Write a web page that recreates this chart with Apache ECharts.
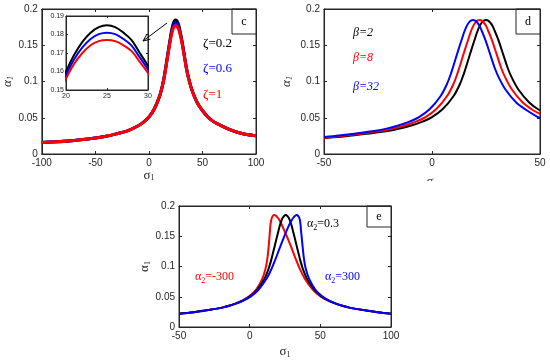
<!DOCTYPE html>
<html><head><meta charset="utf-8">
<script src="https://cdn.jsdelivr.net/npm/echarts@6/dist/echarts.min.js"></script>
<style>html,body{margin:0;padding:0;background:#fff}#c{width:550px;height:360px}</style>
</head><body><div id="c"></div>
<script>
// ---------- Panel c (zeta) ----------
const cSigma = [-100,-75,-50,-40,-30,-20,-10,-5,0,5,10,13,15,17,19,20,21,22,23,24,25,26,27,28,29,30,31,33,35,37,40,45,50,55,60,65,75,85,100];
const cZeta02 = [0.016,0.018,0.022,0.0245,0.028,0.032,0.039,0.044,0.051,0.062,0.080,0.097,0.113,0.132,0.151,0.160,0.169,0.176,0.181,0.184,0.185,0.184,0.181,0.177,0.170,0.163,0.155,0.137,0.119,0.105,0.089,0.071,0.060,0.051,0.045,0.041,0.034,0.029,0.025];
const cZeta06 = [0.016,0.018,0.022,0.0245,0.028,0.032,0.039,0.044,0.051,0.062,0.080,0.0967,0.1124,0.131,0.1495,0.1581,0.1666,0.173,0.1776,0.1802,0.181,0.1802,0.1776,0.174,0.1676,0.1611,0.1535,0.136,0.1184,0.1047,0.089,0.071,0.060,0.051,0.045,0.041,0.034,0.029,0.025];
const cZeta1 = [0.016,0.018,0.022,0.0245,0.028,0.032,0.039,0.044,0.051,0.062,0.080,0.0964,0.1118,0.130,0.148,0.1562,0.1642,0.170,0.1742,0.1764,0.177,0.1764,0.1742,0.171,0.1652,0.1592,0.152,0.135,0.1178,0.1044,0.089,0.071,0.060,0.051,0.045,0.041,0.034,0.029,0.025];
const cXTicks = {min:-100, max:100, interval:50};
const cYTicks = {min:0, max:0.2, interval:0.05};
const insetXTicks = {min:20, max:30, interval:5};
const insetYTicks = {min:0.15, max:0.19, interval:0.01};

// ---------- Panel d (beta) ----------
const dSigmaBeta2 = [-50,-40,-30,-20,-10,-5,0,5,10,13,15,17,19,20,21,22,23,24,25,26,27,28,29,30,31,33,35,37,40,45,50];
const dBeta2 = [0.022,0.0245,0.028,0.032,0.039,0.044,0.051,0.062,0.080,0.097,0.113,0.132,0.151,0.160,0.169,0.176,0.181,0.184,0.185,0.184,0.181,0.177,0.170,0.163,0.155,0.137,0.119,0.105,0.089,0.071,0.060];
const dSigmaBeta8 = [-50,-43,-33,-23,-18,-13,-8,-3,2,7,10,12,14,16,17,18,19,20,21,22,23,24,25,26,27,28,30,32,34,37,42,47,50];
const dBeta8 = [0.0225,0.0245,0.028,0.032,0.035,0.039,0.044,0.051,0.062,0.080,0.097,0.113,0.132,0.151,0.160,0.169,0.176,0.181,0.184,0.185,0.184,0.181,0.177,0.170,0.163,0.155,0.137,0.119,0.105,0.089,0.071,0.060,0.0555];
const dSigmaBeta32 = [-50,-46,-36,-26,-21,-16,-11,-6,-1,4,7,9,11,13,14,15,16,17,18,19,20,21,22,23,24,25,27,29,31,34,39,44,49,50];
const dBeta32 = [0.0235,0.0245,0.028,0.032,0.035,0.039,0.044,0.051,0.062,0.080,0.097,0.113,0.132,0.151,0.160,0.169,0.176,0.181,0.184,0.185,0.184,0.181,0.177,0.170,0.163,0.155,0.137,0.119,0.105,0.089,0.071,0.060,0.051,0.050];
const dXTicks = {min:-50, max:50, interval:50};
const dYTicks = {min:0, max:0.2, interval:0.05};

// ---------- Panel e (alpha2) ----------
const eSigmaA03 = [-50,-39.5,-29.5,-19.5,-14.5,-9.5,-4.5,0.5,5.5,10.5,13.5,15.5,17.5,19.5,20.5,21.5,22.5,23.5,24.5,25.5,26.5,27.5,28.5,29.5,30.5,31.5,33.5,35.5,37.5,40.5,45.5,50.5,55.5,60.5,65.5,70.5,80.5,90.5,100];
const eA03 = [0.022,0.0245,0.028,0.032,0.035,0.039,0.044,0.051,0.062,0.080,0.097,0.113,0.132,0.151,0.160,0.169,0.176,0.181,0.184,0.185,0.184,0.181,0.176,0.169,0.160,0.151,0.132,0.113,0.097,0.080,0.062,0.051,0.044,0.039,0.035,0.032,0.028,0.0245,0.022];
const eSigmaAm300 = [-50,-39.6,-29.7,-19.7,-14.8,-9.9,-5.0,-0.1,4.6,9.0,11.3,12.5,13.4,14.1,14.4,14.7,15.2,15.8,16.5,17.4,18.5,19.8,21.2,22.7,24.4,26.1,29.4,32.5,35.3,39.0,44.6,49.9,55.0,60.1,65.2,70.3,80.3,90.4,100];
const eAm300 = [0.022,0.0245,0.028,0.032,0.035,0.039,0.044,0.051,0.062,0.080,0.097,0.113,0.132,0.151,0.160,0.169,0.176,0.181,0.184,0.185,0.184,0.181,0.176,0.169,0.160,0.151,0.132,0.113,0.097,0.080,0.062,0.051,0.044,0.039,0.035,0.032,0.028,0.0245,0.022];
const eSigmaA300 = [-50,-39.4,-29.3,-19.3,-14.2,-9.15,-4.1,1.1,6.4,12.0,15.6,18.4,21.5,24.7,26.3,28.0,29.6,31.0,32.2,33.3,34.2,35.0,35.6,36.0,36.3,36.7,37.5,38.4,39.6,42.0,46.4,51.1,55.9,60.85,65.8,70.7,80.7,90.6,100];
const eA300 = [0.022,0.0245,0.028,0.032,0.035,0.039,0.044,0.051,0.062,0.080,0.097,0.113,0.132,0.151,0.160,0.169,0.176,0.181,0.184,0.185,0.184,0.181,0.176,0.169,0.160,0.151,0.132,0.113,0.097,0.080,0.062,0.051,0.044,0.039,0.035,0.032,0.028,0.0245,0.022];
const eXTicks = {min:-50, max:100, interval:50};
const eYTicks = {min:0, max:0.2, interval:0.05};

const pair = (xs, ys) => xs.map((x, i) => [x, ys[i]]);

const AX = '#262626';
const SANS = '"Liberation Sans Narrow", "Arial Narrow", "Liberation Sans", Arial, sans-serif';
const SERIF = '"Liberation Serif", "Times New Roman", serif';

const xAxis = [], yAxis = [];
function addAxes(gi, xt, yt, o) {
  const fs = o.fs || 10;
  const base = {
    gridIndex: gi, type: 'value',
    axisLine: {show: true, onZero: false, lineStyle: {color: AX, width: 1}},
    axisTick: {show: true, inside: true, length: o.tick || 3, lineStyle: {color: AX}},
    splitLine: {show: false}
  };
  xAxis.push(Object.assign({}, base, xt, {position: 'bottom',
    axisLabel: {color: AX, fontSize: fs, fontFamily: SANS, margin: o.xm || 4},
    name: o.xname || '', nameLocation: 'middle', nameGap: o.xgap || 15,
    nameTextStyle: o.xnameStyle || {}}));
  xAxis.push(Object.assign({}, base, xt, {position: 'top', axisLabel: {show: false}}));
  yAxis.push(Object.assign({}, base, yt, {position: 'left',
    axisLabel: {color: AX, fontSize: fs, fontFamily: SANS, margin: o.ym || 4},
    name: o.yname || '', nameLocation: 'middle', nameGap: o.ygap || 25, nameRotate: 90,
    nameTextStyle: o.ynameStyle || {}}));
  yAxis.push(Object.assign({}, base, yt, {position: 'right', axisLabel: {show: false}}));
}

const sigRich = {
  s: {fontFamily: SERIF, fontSize: 13, color: AX},
  b: {fontFamily: SERIF, fontSize: 8, color: AX, verticalAlign: 'bottom', padding: [6, 0, 0, 0]}
};
const aRichItal = {
  s: {fontFamily: SERIF, fontSize: 13, fontStyle: 'italic', color: AX},
  b: {fontFamily: SERIF, fontSize: 8, fontStyle: 'italic', color: AX, padding: [6, 0, 0, 0]}
};
const aRich = {
  s: {fontFamily: SERIF, fontSize: 13, color: AX},
  b: {fontFamily: SERIF, fontSize: 8, color: AX, padding: [6, 0, 0, 0]}
};

// grid 0: c main, grid 1: c inset, grid 2: d, grid 3: e
addAxes(0, cXTicks, cYTicks, {xname: '{s|σ}{b|1}', xnameStyle: {rich: sigRich}, xgap: 14,
  yname: '{s|α}{b|1}', ynameStyle: {rich: aRichItal}, ygap: 23});
addAxes(1, insetXTicks, insetYTicks, {fs: 7, xm: 3, ym: 2, tick: 2});
addAxes(2, dXTicks, dYTicks, {xname: '{s|σ}{b|1}', xnameStyle: {rich: sigRich}, xgap: 21,
  yname: '{s|α}{b|1}', ynameStyle: {rich: aRichItal}, ygap: 30});
addAxes(3, eXTicks, eYTicks, {xname: '{s|σ}{b|1}', xnameStyle: {rich: sigRich}, xgap: 18,
  yname: '{s|α}{b|1}', ynameStyle: {rich: aRich}, ygap: 25});

function line(gi, xs, ys, color, w) {
  return {type: 'line', xAxisIndex: gi * 2, yAxisIndex: gi * 2, data: pair(xs, ys),
    symbol: 'none', smooth: 0.35, clip: true, silent: true,
    lineStyle: {color: color, width: w}, itemStyle: {color: color}, z: 3};
}

const series = [
  line(0, cSigma, cZeta02, '#000000', 3),
  line(0, cSigma, cZeta06, '#0000ff', 3),
  line(0, cSigma, cZeta1, '#ff0000', 3),
  line(1, cSigma, cZeta02, '#000000', 2),
  line(1, cSigma, cZeta06, '#0000ff', 2),
  line(1, cSigma, cZeta1, '#ff0000', 2),
  line(2, dSigmaBeta2, dBeta2, '#000000', 2),
  line(2, dSigmaBeta8, dBeta8, '#ff0000', 2),
  line(2, dSigmaBeta32, dBeta32, '#0000ff', 2),
  line(3, eSigmaAm300, eAm300, '#ff0000', 2),
  line(3, eSigmaA03, eA03, '#000000', 2),
  line(3, eSigmaA300, eA300, '#0000ff', 2)
];

const grid = [
  {left: 41, top: 9, width: 215, height: 145, show: true, borderColor: AX, borderWidth: 1, backgroundColor: '#fff'},
  {left: 66, top: 16, width: 82, height: 74, show: true, borderColor: AX, borderWidth: 1, backgroundColor: '#fff', z: 5},
  {left: 324, top: 9, width: 216, height: 145, show: true, borderColor: AX, borderWidth: 1},
  {left: 179, top: 206, width: 212, height: 122, show: true, borderColor: AX, borderWidth: 1}
];
xAxis[2].z = 6; xAxis[3].z = 6; yAxis[2].z = 6; yAxis[3].z = 6;
series.slice(3, 6).forEach(s => s.z = 6);

function tag(x, y, w, h, t) {
  return {type: 'group', z: 20, children: [
    {type: 'rect', shape: {x: x, y: y, width: w, height: h}, style: {fill: '#fff', stroke: AX, lineWidth: 1}},
    {type: 'text', style: {x: x + w / 2, y: y + h / 2, text: t, font: '12px ' + SERIF, fill: '#000', align: 'center', verticalAlign: 'middle'}}
  ]};
}
function txt(x, y, text, color, rich, extra) {
  return {type: 'text', z: 20, style: Object.assign({x: x, y: y, text: text, fill: color,
    font: '12px ' + SERIF, verticalAlign: 'middle', rich: rich}, extra || {})};
}
const subR = (c) => ({
  n: {fontFamily: SERIF, fontSize: 12, fill: c, color: c},
  b: {fontFamily: SERIF, fontSize: 8, fill: c, color: c, padding: [7, 0, 0, 0]}
});

const graphic = [
  tag(232, 9, 24, 25, 'c'),
  tag(516, 9, 24, 25, 'd'),
  tag(367, 206, 24, 21, 'e'),
  {type: 'line', z: 20, shape: {x1: 167, y1: 23, x2: 143, y2: 41}, style: {stroke: '#000', lineWidth: 1}},
  {type: 'polyline', z: 20, shape: {points: [[150.4, 39.2], [143, 41], [146.8, 34.4]]}, style: {stroke: '#000', lineWidth: 1, fill: null}},
  txt(203, 44, 'ζ=0.2', '#000', null, {font: '13px ' + SERIF}),
  txt(203, 69, 'ζ=0.6', '#0000ff', null, {font: '13px ' + SERIF}),
  txt(203, 95, 'ζ=1', '#ff0000', null, {font: '13px ' + SERIF}),
  txt(353, 33, 'β=2', '#000', null, {font: 'italic 12px ' + SERIF}),
  txt(353, 58, 'β=8', '#ff0000', null, {font: 'italic 12px ' + SERIF}),
  txt(353, 87, 'β=32', '#0000ff', null, {font: 'italic 12px ' + SERIF}),
  txt(307, 224, '{n|α}{b|2}{n|=0.3}', '#000', subR('#000')),
  txt(195, 277, '{n|α}{b|2}{n|=-300}', '#ff0000', subR('#ff0000')),
  txt(325, 277, '{n|α}{b|2}{n|=300}', '#0000ff', subR('#0000ff')),
  {type: 'rect', z: 30, shape: {x: 400, y: 181, width: 70, height: 14}, style: {fill: '#fff'}}
];

const chart = echarts.init(document.getElementById('c'));
chart.setOption({
  animation: false,
  backgroundColor: '#fff',
  grid: grid, xAxis: xAxis, yAxis: yAxis, series: series, graphic: graphic
});
</script></body></html>
